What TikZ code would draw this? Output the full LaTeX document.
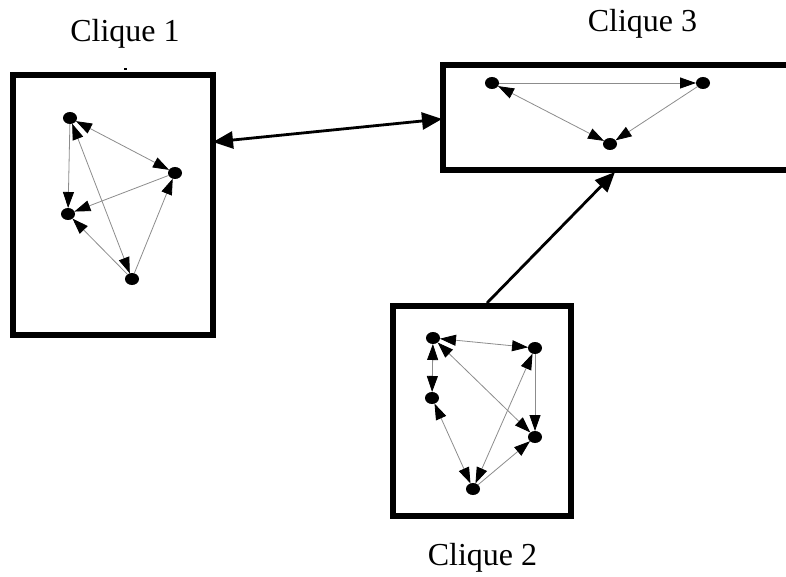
\documentclass[tikz,border=0pt]{standalone}
\usepackage{fontspec}
\setmainfont{Liberation Serif}
\usetikzlibrary{arrows.meta,shapes.geometric}
\begin{document}
\begin{tikzpicture}[x=1pt,y=-1pt,
  vert/.style={shape=ellipse,fill=black,minimum width=14pt,minimum height=12pt,inner sep=0pt,outer sep=0pt},
  link/.style={draw=black!45,line width=0.8pt,>={Triangle[length=16pt,width=11pt,color=black]}},
  box/.style={draw=black,line width=6.5pt,inner sep=0pt,outer sep=0pt},
  bigarrow/.style={draw=black,line width=2.8pt,>={Triangle[length=20pt,width=17pt]}},
  lbl/.style={anchor=base,inner sep=0pt,font=\fontsize{32}{38}\selectfont}]
\useasboundingbox (0,0) rectangle (786,577);
\clip (0,0) rectangle (786,577);

% cluster frames
\node[box,minimum width=200pt,minimum height=260pt] (b1) at (113,205) {};
\node[box,minimum width=178pt,minimum height=210pt] (b2) at (482,411) {};
\node[box,minimum width=357pt,minimum height=105pt] (b3) at (621.5,117.5) {};

% titles
\node[lbl] (t1) at (125,42) {Clique 1};
\node[lbl] (t3) at (642.5,32) {Clique 3};
\node[lbl] (t2) at (482.5,565) {Clique 2};
\fill (124,68) rectangle (126.5,70.5);

% clique 1
\node[vert] (a) at (70,118) {};
\node[vert] (b) at (175,173) {};
\node[vert] (c) at (68,214) {};
\node[vert] (d) at (132,279) {};
\draw[link,<->] (a) -- (b);
\draw[link,->] (a) -- (c);
\draw[link,<->] (a) -- (d);
\draw[link,->] (b) -- (c);
\draw[link,->] (d) -- (b);
\draw[link,->] (d) -- (c);

% clique 3
\node[vert] (e) at (492,83) {};
\node[vert] (f) at (703,83) {};
\node[vert] (g) at (610,144) {};
\draw[link,->] (e) -- (f);
\draw[link,->] (f) -- (g);
\draw[link,<->] (e) -- (g);

% clique 2
\node[vert] (h) at (433,338) {};
\node[vert] (i) at (535,348) {};
\node[vert] (j) at (432,398) {};
\node[vert] (k) at (535,437) {};
\node[vert] (l) at (473,489) {};
\draw[link,<->] (h) -- (i);
\draw[link,<->] (h) -- (j);
\draw[link,<->] (h) -- (k);
\draw[link,<->] (i) -- (l);
\draw[link,->] (i) -- (k);
\draw[link,<->] (l) -- (j);
\draw[link,->] (l) -- (k);

% links between cliques
\coordinate (p1) at (213,142);
\coordinate (p3) at (442,119);
\coordinate (q2) at (487,303);
\coordinate (q3) at (615,172);
\draw[bigarrow,<->] (p1) -- (p3);
\draw[bigarrow,->] (q2) -- (q3);
\end{tikzpicture}
\end{document}
